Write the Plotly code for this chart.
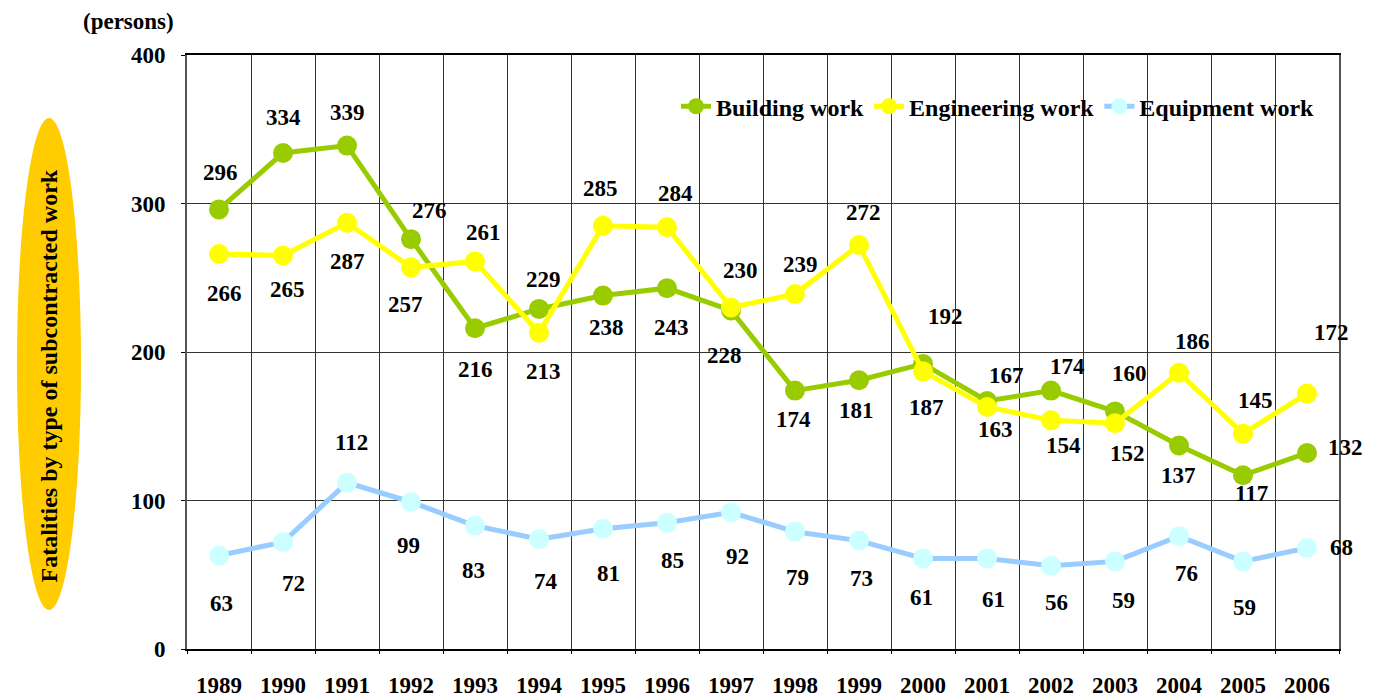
import plotly.graph_objects as go

# data
years = [str(y) for y in range(1989, 2007)]
building = [296, 334, 339, 276, 216, 229, 238, 243, 228, 174, 181, 192, 167, 174, 160, 137, 117, 132]
engineering = [266, 265, 287, 257, 261, 213, 285, 284, 230, 239, 272, 187, 163, 154, 152, 186, 145, 172]
equipment = [63, 72, 112, 99, 83, 74, 81, 85, 92, 79, 73, 61, 61, 56, 59, 76, 59, 68]
y_ticks = [0, 100, 200, 300, 400]

# label offsets (dx, dy in px, dy positive = down)
building_off = [(1, -37), (0, -36), (0, -33), (18, -29), (0, 41), (4, -29), (3, 32), (4, 39), (-7, 45),
                (-2, 29), (-3, 30), (22, -47), (19, -26), (16, -24), (14, -38), (-1, 30), (8, 18), (38, -5)]
engineering_off = [(5, 40), (4, 34), (0, 39), (-6, 37), (8, -29), (4, 39), (-3, -37), (8, -34), (9, -37),
                   (5, -30), (4, -33), (3, 36), (8, 23), (12, 25), (12, 30), (13, -31), (12, -33), (24, -61)]
equipment_off = [(2, 48), (10, 41), (4, -40), (-3, 44), (-2, 45), (7, 42), (5, 45), (5, 38), (6, 44),
                 (2, 46), (2, 38), (-2, 39), (6, 41), (5, 37), (8, 39), (7, 37), (1, 46), (34, -1)]

FONT = "Liberation Serif, Times New Roman, serif"

series = [
    ("Building work", building, "#99CC00", "#99CC00", building_off),
    ("Engineering work", engineering, "#FFFF00", "#FFFF00", engineering_off),
    ("Equipment work", equipment, "#99CCFF", "#CCFFFF", equipment_off),
]

fig = go.Figure()
annotations = []
for name, vals, lc, mc, offs in series:
    fig.add_trace(go.Scatter(
        x=years, y=vals, name=name, mode="lines+markers",
        line=dict(color=lc, width=5),
        marker=dict(color=mc, size=20),
        cliponaxis=False,
    ))
    # category index positions for the value labels
    for i, (v, (dx, dy)) in enumerate(zip(vals, offs)):
        annotations.append(dict(x=i, y=v, text=str(v), showarrow=False,
                                xanchor="center", yanchor="middle",
                                xshift=dx, yshift=-dy,
                                font=dict(size=23, color="black")))

# y-axis title inside ellipse
annotations.append(dict(xref="paper", yref="paper", x=-0.1198, y=0.4605,
                        xanchor="center", yanchor="middle",
                        text="Fatalities by type of subcontracted work",
                        textangle=-90, showarrow=False,
                        font=dict(size=24, color="black")))
annotations.append(dict(xref="paper", yref="paper", x=-0.0512, y=1.0572,
                        xanchor="center", yanchor="middle",
                        text="(persons)", showarrow=False,
                        font=dict(size=23, color="black")))

fig.update_layout(
    width=1377, height=699,
    margin=dict(l=187, r=38, t=55, b=50),
    paper_bgcolor="white", plot_bgcolor="white",
    font=dict(family=FONT, size=23, color="black", weight="bold"),
    showlegend=True,
    legend=dict(orientation="h", x=0.9835, xanchor="right", y=0.913, yanchor="middle",
                bgcolor="rgba(0,0,0,0)", font=dict(size=24), tracegroupgap=0),
    annotations=annotations,
    shapes=[dict(type="circle", xref="paper", yref="paper",
                 x0=-0.1476, x1=-0.092, y0=0.0655, y1=0.894,
                 fillcolor="#FFCC00", line=dict(width=0), layer="below")],
    xaxis=dict(type="category", range=[-0.5, 17.5], tickson="boundaries",
               showgrid=True, gridcolor="#333333", gridwidth=1,
               showline=True, linecolor="black", linewidth=1.5, mirror=True,
               ticks="outside", ticklen=3, tickcolor="black", automargin=False,
               ticklabelstandoff=15, tickfont=dict(size=23)),
    yaxis=dict(range=[0, 400], tickvals=y_ticks,
               showgrid=True, gridcolor="#333333", gridwidth=1,
               showline=True, linecolor="#555555", linewidth=2, mirror=True,
               ticks="outside", ticklen=4, tickcolor="black", automargin=False,
               ticklabelstandoff=11, tickfont=dict(size=23), zeroline=False),
)

# page has a default 8px body margin; drop it so the figure fills the window
fig.write_html("out.html", config={"displayModeBar": False},
               post_script="document.body.style.margin='0';")
